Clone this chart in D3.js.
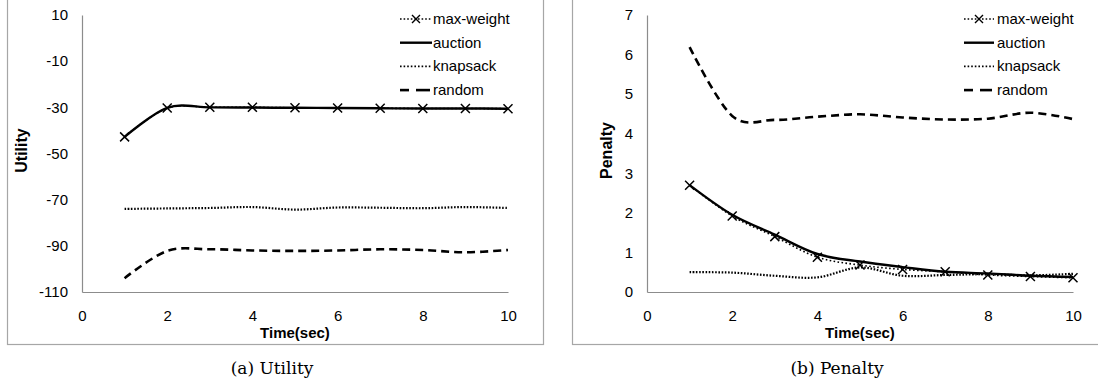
<!DOCTYPE html>
<html>
<head>
<meta charset="utf-8">
<script src="https://cdn.jsdelivr.net/npm/d3@7"></script>
<style>
  body { margin: 0; background: #fff; }
  svg { display: block; }
</style>
</head>
<body>
<svg id="chart" width="1098" height="387"></svg>
<script>
// ---- data ----
const time = [1, 2, 3, 4, 5, 6, 7, 8, 9, 10];
const seriesNames = ["max-weight", "auction", "knapsack", "random"];

const utilityMaxWeight = [-42.8, -30.3, -30.0, -30.0, -30.2, -30.3, -30.4, -30.5, -30.5, -30.6];
const utilityAuction   = [-42.8, -30.2, -30.0, -30.1, -30.2, -30.3, -30.4, -30.5, -30.5, -30.6];
const utilityKnapsack  = [-74.0, -73.8, -73.6, -73.2, -74.3, -73.4, -73.5, -73.7, -73.2, -73.6];
const utilityRandom    = [-104.0, -92.2, -91.5, -92.0, -92.2, -92.0, -91.5, -91.8, -92.8, -91.8];

const penaltyMaxWeight = [2.70, 1.92, 1.40, 0.88, 0.68, 0.57, 0.51, 0.43, 0.39, 0.36];
const penaltyAuction   = [2.70, 1.95, 1.45, 0.96, 0.77, 0.63, 0.51, 0.47, 0.41, 0.38];
const penaltyKnapsack  = [0.50, 0.49, 0.41, 0.37, 0.62, 0.41, 0.43, 0.45, 0.42, 0.46];
const penaltyRandom    = [6.19, 4.45, 4.35, 4.43, 4.49, 4.41, 4.36, 4.38, 4.53, 4.37];

const xTicks = [0, 2, 4, 6, 8, 10];
const utilityTicks = [10, -10, -30, -50, -70, -90, -110];
const penaltyTicks = [0, 1, 2, 3, 4, 5, 6, 7];

const xTitle = "Time(sec)";
const utilityTitle = "Utility";
const penaltyTitle = "Penalty";
const captionA = "(a) Utility";
const captionB = "(b) Penalty";

// ---- styles ----
const styles = {
  "max-weight": { width: 1.6, dash: "1.6,2.4", marker: true },
  "auction":    { width: 2.4, dash: null, marker: false },
  "knapsack":   { width: 2.2, dash: "1.6,1.6", marker: false },
  "random":     { width: 2.6, dash: "8,5", marker: false }
};

const svg = d3.select("#chart");
const sansFont = "'Liberation Sans', Arial, sans-serif";
const serifFont = "'DejaVu Serif', serif";
const fmt = d => String(d);

function drawPanel(cfg) {
  const g = svg.append("g");
  // outer frame
  g.append("rect")
    .attr("x", cfg.frame[0] + 0.5).attr("y", cfg.frame[1] + 0.5)
    .attr("width", cfg.frame[2] - cfg.frame[0]).attr("height", cfg.frame[3] - cfg.frame[1])
    .attr("fill", "none").attr("stroke", "#a6a6a6").attr("stroke-width", 1.2);

  const x = d3.scaleLinear().domain([0, 10]).range([cfg.left, cfg.right]);
  const y = d3.scaleLinear().domain(cfg.yDomain).range([cfg.bottom, cfg.top]);

  const ya = g.append("g").attr("transform", `translate(${cfg.left},0)`)
    .call(d3.axisLeft(y).tickValues(cfg.yTicks).tickFormat(fmt).tickSize(0).tickPadding(14).tickSizeOuter(0));
  const xa = g.append("g").attr("transform", `translate(0,${cfg.bottom})`)
    .call(d3.axisBottom(x).tickValues(xTicks).tickFormat(fmt).tickSize(0).tickPadding(18).tickSizeOuter(0));
  [ya, xa].forEach(a => {
    a.select(".domain").attr("stroke", "#8c8c8c").attr("stroke-width", 1.2);
    a.selectAll("text").attr("font-family", sansFont).attr("font-size", 15).attr("fill", "#000");
  });

  g.append("text")
    .attr("x", (cfg.left + cfg.right) / 2).attr("y", cfg.bottom + 46)
    .attr("text-anchor", "middle").attr("font-family", sansFont)
    .attr("font-size", 15).attr("font-weight", "bold").text(xTitle);

  g.append("text")
    .attr("transform", `translate(${cfg.yTitleX},${(cfg.top + cfg.bottom) / 2 - 3}) rotate(-90)`)
    .attr("text-anchor", "middle").attr("font-family", sansFont)
    .attr("font-size", 16).attr("font-weight", "bold").text(cfg.yTitle);

  const line = d3.line()
    .x((d, i) => x(time[i]))
    .y(d => y(d))
    .curve(d3.curveCardinal.tension(0));

  const order = ["knapsack", "random", "max-weight", "auction"];
  order.forEach(name => {
    const st = styles[name];
    const vals = cfg.series[name];
    const p = g.append("path").datum(vals)
      .attr("d", line)
      .attr("fill", "none").attr("stroke", "#000")
      .attr("stroke-width", st.width);
    if (st.dash) p.attr("stroke-dasharray", st.dash);
    if (st.marker) {
      const s = 4.5;
      g.append("g").selectAll("path").data(vals).join("path")
        .attr("d", (d, i) => {
          const cx = x(time[i]), cy = y(d);
          return `M${cx - s},${cy - s}L${cx + s},${cy + s}M${cx - s},${cy + s}L${cx + s},${cy - s}`;
        })
        .attr("stroke", "#000").attr("stroke-width", 1.5).attr("fill", "none");
    }
  });

  // legend
  const lg = g.append("g");
  seriesNames.forEach((name, i) => {
    const cy = cfg.legendY + i * 23.7;
    const st = styles[name];
    const x0 = cfg.legendX0, x1 = cfg.legendX1;
    if (name === "random") {
      lg.append("line").attr("x1", x0).attr("x2", x0 + 9).attr("y1", cy).attr("y2", cy)
        .attr("stroke", "#000").attr("stroke-width", st.width);
      lg.append("line").attr("x1", x0 + 16).attr("x2", x1 - 2).attr("y1", cy).attr("y2", cy)
        .attr("stroke", "#000").attr("stroke-width", st.width);
    } else {
      const l = lg.append("line").attr("x1", x0).attr("x2", x1).attr("y1", cy).attr("y2", cy)
        .attr("stroke", "#000").attr("stroke-width", name === "auction" ? 2.4 : 1.6);
      if (st.dash) l.attr("stroke-dasharray", "1.6,2");
    }
    if (st.marker) {
      const cx = (x0 + x1) / 2, s = 4;
      lg.append("path")
        .attr("d", `M${cx - s},${cy - s}L${cx + s},${cy + s}M${cx - s},${cy + s}L${cx + s},${cy - s}`)
        .attr("stroke", "#000").attr("stroke-width", 1.4).attr("fill", "none");
    }
    lg.append("text").attr("x", cfg.legendText).attr("y", cy + 5)
      .attr("font-family", sansFont).attr("font-size", 15).text(name);
  });

  // caption
  svg.append("text")
    .attr("x", cfg.captionX).attr("y", 374)
    .attr("text-anchor", "middle").attr("font-family", serifFont)
    .attr("font-size", 17).text(cfg.caption);
}

drawPanel({
  frame: [7, -5, 543, 344],
  left: 82, right: 508, top: 15, bottom: 292,
  yDomain: [-110, 10], yTicks: utilityTicks, yTitle: utilityTitle, yTitleX: 27,
  series: { "max-weight": utilityMaxWeight, "auction": utilityAuction, "knapsack": utilityKnapsack, "random": utilityRandom },
  legendY: 19, legendX0: 400, legendX1: 432, legendText: 433,
  caption: captionA, captionX: 272
});

drawPanel({
  frame: [572, -5, 1104, 344],
  left: 647, right: 1073, top: 15, bottom: 292,
  yDomain: [0, 7], yTicks: penaltyTicks, yTitle: penaltyTitle, yTitleX: 612,
  series: { "max-weight": penaltyMaxWeight, "auction": penaltyAuction, "knapsack": penaltyKnapsack, "random": penaltyRandom },
  legendY: 19, legendX0: 964, legendX1: 994, legendText: 997,
  caption: captionB, captionX: 837
});
</script>
</body>
</html>
